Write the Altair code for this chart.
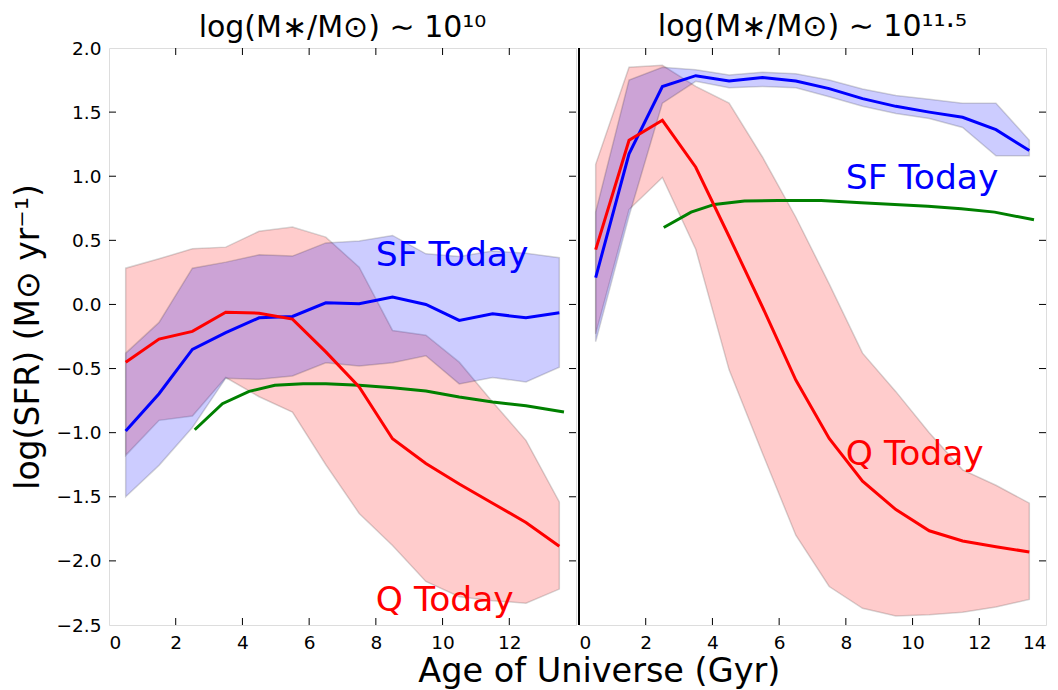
import altair as alt
import pandas as pd

# ---------------- data ----------------
x_mid = [0.5, 1.5, 2.5, 3.5, 4.5, 5.5, 6.5, 7.5, 8.5, 9.5, 10.5, 11.5, 12.5, 13.5]

# Left panel: log(M*/Msun) ~ 10^10
l_sf_med = [-0.987, -0.696, -0.35, -0.22, -0.104, -0.094, 0.013, 0.005, 0.057, 0.0, -0.125, -0.073, -0.104, -0.065]
l_sf_hi = [-0.38, -0.14, 0.283, 0.33, 0.387, 0.377, 0.48, 0.494, 0.538, 0.395, 0.374, 0.416, 0.40, 0.364]
l_sf_lo = [-1.50, -1.255, -0.96, -0.575, -0.584, -0.558, -0.455, -0.48, -0.455, -0.40, -0.62, -0.57, -0.605, -0.49]
l_q_med = [-0.45, -0.27, -0.21, -0.06, -0.068, -0.114, -0.37, -0.644, -1.047, -1.24, -1.40, -1.55, -1.70, -1.886]
l_q_hi = [0.283, 0.356, 0.434, 0.447, 0.571, 0.603, 0.525, 0.29, -0.203, -0.24, -0.45, -0.76, -1.06, -1.54]
l_q_lo = [-1.177, -0.904, -0.87, -0.57, -0.72, -0.84, -1.25, -1.63, -1.88, -2.16, -2.28, -2.31, -2.33, -2.22]
l_ms_x = [2.57, 3.4, 4.2, 4.97, 5.82, 6.5, 7.5, 8.5, 9.5, 10.5, 11.5, 12.5, 13.64]
l_ms_y = [-0.977, -0.774, -0.678, -0.631, -0.618, -0.618, -0.631, -0.649, -0.675, -0.722, -0.761, -0.79, -0.839]

# Right panel: log(M*/Msun) ~ 10^11.5
r_sf_med = [0.21, 1.175, 1.70, 1.784, 1.742, 1.769, 1.742, 1.683, 1.605, 1.545, 1.50, 1.46, 1.363, 1.20]
r_sf_hi = [0.72, 1.75, 1.85, 1.83, 1.79, 1.81, 1.80, 1.75, 1.68, 1.63, 1.60, 1.57, 1.57, 1.28]
r_sf_lo = [-0.29, 0.69, 1.57, 1.74, 1.69, 1.70, 1.69, 1.62, 1.545, 1.49, 1.45, 1.38, 1.16, 1.16]
r_q_med = [0.428, 1.28, 1.436, 1.07, 0.53, -0.02, -0.59, -1.045, -1.378, -1.60, -1.765, -1.845, -1.89, -1.93]
r_q_hi = [1.093, 1.85, 1.865, 1.70, 1.57, 1.15, 0.68, 0.16, -0.38, -0.68, -1.0, -1.29, -1.41, -1.55]
r_q_lo = [-0.23, 0.74, 0.99, 0.43, -0.51, -1.16, -1.80, -2.20, -2.37, -2.43, -2.42, -2.40, -2.36, -2.30]
r_ms_x = [2.54, 3.36, 4.06, 4.96, 5.96, 7.26, 8.46, 9.46, 10.46, 11.46, 12.46, 13.64]
r_ms_y = [0.60, 0.72, 0.78, 0.806, 0.811, 0.811, 0.793, 0.78, 0.765, 0.746, 0.72, 0.66]

panel_titles = ["log(M\u2217/M\u2299) \u223c 10\u00b9\u2070", "log(M\u2217/M\u2299) \u223c 10\u00b9\u00b9\u00b7\u2075"]
x_title = "Age of Universe (Gyr)"
y_title = "log(SFR) (M\u2299 yr\u207b\u00b9)"
annot_text = ["SF Today", "Q Today"]
annot_x = {"L": [8.0, 8.0], "R": [8.0, 8.0]}
annot_y = {"L": [0.30, -2.39], "R": [0.90, -1.25]}

x_ticks_left = [0, 2, 4, 6, 8, 10, 12]
x_ticks_right = [0, 2, 4, 6, 8, 10, 12, 14]
x_ticks_inner = [2, 4, 6, 8, 10, 12]
y_ticks = [-2.5, -2.0, -1.5, -1.0, -0.5, 0.0, 0.5, 1.0, 1.5, 2.0]

# ---------------- tables ----------------
def band_df(lo, hi):
    return pd.DataFrame({"x": x_mid, "lo": lo, "hi": hi})

def line_df(xs, ys):
    return pd.DataFrame({"x": xs, "y": ys})

panels = {
    "L": dict(q_band=band_df(l_q_lo, l_q_hi), sf_band=band_df(l_sf_lo, l_sf_hi),
              q=line_df(x_mid, l_q_med), sf=line_df(x_mid, l_sf_med), ms=line_df(l_ms_x, l_ms_y)),
    "R": dict(q_band=band_df(r_q_lo, r_q_hi), sf_band=band_df(r_sf_lo, r_sf_hi),
              q=line_df(x_mid, r_q_med), sf=line_df(x_mid, r_sf_med), ms=line_df(r_ms_x, r_ms_y)),
}

W, H = 467, 577
FONT = "DejaVu Sans"
LABEL_FS = 18.5
xs = alt.Scale(domain=[0, 14], nice=False, zero=False)
ys = alt.Scale(domain=[-2.5, 2.0], nice=False, zero=False)


def make_panel(key, idx):
    d = panels[key]
    first = key == "L"
    xaxis = alt.Axis(values=x_ticks_left if first else x_ticks_right, ticks=False, domain=False,
                     grid=False, labelFontSize=LABEL_FS, labelFont=FONT, labelPadding=8,
                     labelColor="black", title=None)
    if first:
        yaxis = alt.Axis(values=y_ticks, format=".1f", ticks=False, domain=False, grid=False,
                         labelFontSize=LABEL_FS, labelFont=FONT, labelPadding=8, labelColor="black",
                         title=y_title, titleFontSize=33, titleFont=FONT,
                         titleFontWeight="normal", titleColor="black", titlePadding=11)
    else:
        yaxis = None

    def X(field="x"):
        return alt.X(f"{field}:Q", scale=xs, axis=xaxis, title=None)

    def Y(field):
        if yaxis is None:
            return alt.Y(f"{field}:Q", scale=ys, axis=None)
        return alt.Y(f"{field}:Q", scale=ys, axis=yaxis, title=y_title)

    q_band = alt.Chart(d["q_band"]).mark_area(
        color="#ff0000", fillOpacity=0.2, stroke="black", strokeOpacity=0.16, strokeWidth=1.5
    ).encode(x=X(), y=Y("lo"), y2="hi:Q")
    sf_band = alt.Chart(d["sf_band"]).mark_area(
        color="#0000ff", fillOpacity=0.2, stroke="black", strokeOpacity=0.16, strokeWidth=1.5
    ).encode(x=X(), y=Y("lo"), y2="hi:Q")
    ms = alt.Chart(d["ms"]).mark_line(color="#008000", strokeWidth=3).encode(x=X(), y=Y("y"))
    sf = alt.Chart(d["sf"]).mark_line(color="#0000ff", strokeWidth=3).encode(x=X(), y=Y("y"))
    q = alt.Chart(d["q"]).mark_line(color="#ff0000", strokeWidth=3).encode(x=X(), y=Y("y"))

    ann = pd.DataFrame({"text": annot_text, "x": annot_x[key], "y": annot_y[key],
                        "c": ["#0000ff", "#ff0000"]})
    texts = alt.Chart(ann).mark_text(
        align="left", baseline="alphabetic", fontSize=34.5, font=FONT
    ).encode(x=X(), y=Y("y"), text="text:N", color=alt.Color("c:N", scale=None))

    # inward ticks (matplotlib style)
    yt = pd.DataFrame({"v": y_ticks[1:-1]})
    xt = pd.DataFrame({"v": x_ticks_inner})
    tick_layers = [
        alt.Chart(yt).mark_rule(color="black", strokeWidth=1).encode(
            y=Y("v"), x=alt.value(W - 7), x2=alt.value(W)),
        alt.Chart(xt).mark_rule(color="black", strokeWidth=1).encode(
            x=X("v"), y=alt.value(H - 7), y2=alt.value(H)),
        alt.Chart(xt).mark_rule(color="black", strokeWidth=1).encode(
            x=X("v"), y=alt.value(0), y2=alt.value(7)),
    ]
    if first:
        tick_layers.append(alt.Chart(yt).mark_rule(color="black", strokeWidth=1).encode(
            y=Y("v"), x=alt.value(0), x2=alt.value(7)))
    else:
        # solid divider between the two panels (left spine of the right panel)
        tick_layers.append(alt.Chart(yt).mark_rule(color="black", strokeWidth=1.6).encode(
            x=alt.value(0), y=alt.value(0), y2=alt.value(H)))

    # the left panel's top y label sticks out above the frame; compensate so both titles align
    title_dy = LABEL_FS / 2 if first else 0
    return alt.layer(q_band, sf_band, ms, sf, q, texts, *tick_layers).properties(
        width=W, height=H,
        title=alt.Title(panel_titles[idx], fontSize=30, font=FONT, fontWeight="normal",
                        color="black", anchor="middle", frame="group", offset=5, dy=title_dy),
    )


chart = alt.hconcat(make_panel("L", 0), make_panel("R", 1), spacing=0).properties(
    title=alt.Title(x_title, orient="bottom", anchor="middle", dx=70, offset=4,
                    fontSize=33.5, font=FONT, fontWeight="normal", color="black"),
    padding={"left": 3, "right": 0, "top": 3, "bottom": 0},
).configure_view(stroke="black", strokeWidth=1.5).configure(background="white")

chart.save("out.html", embed_options={"renderer": "svg", "actions": False})
